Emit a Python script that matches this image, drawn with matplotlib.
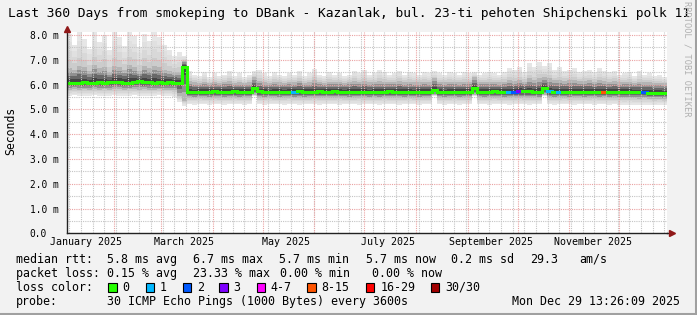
import numpy as np
import matplotlib
matplotlib.use('Agg')
import matplotlib.pyplot as plt
import matplotlib.dates as mdates
from matplotlib.patches import Rectangle
from matplotlib.lines import Line2D
from datetime import datetime, timedelta

plt.rcParams['font.family'] = ['DejaVu Sans Mono']

W, H = 697, 315

# Time span: 360 days ending at the graph timestamp, 3-day bins.
end = datetime(2025, 12, 29, 13, 26, 9)
start = end - timedelta(days=360)
bin_days = 3

# Median rtt per bin (ms).
median_rtt = [
    6.06, 6.08, 6.07, 6.09, 6.08, 6.07, 6.10, 6.08, 6.09, 6.12, 6.10, 6.08,
    6.07, 6.11, 6.13, 6.10, 6.09, 6.08, 6.09, 6.08, 6.10, 6.08, 6.06, 6.72,
    5.70, 5.69, 5.71, 5.70, 5.72, 5.73, 5.71, 5.70, 5.72, 5.73, 5.71, 5.72,
    5.71, 5.86, 5.73, 5.71, 5.70, 5.72, 5.71, 5.70, 5.72, 5.71, 5.73, 5.72,
    5.71, 5.72, 5.74, 5.72, 5.71, 5.73, 5.72, 5.70, 5.72, 5.71, 5.72, 5.70,
    5.70, 5.71, 5.69, 5.72, 5.73, 5.71, 5.70, 5.71, 5.72, 5.70, 5.71, 5.72,
    5.71, 5.80, 5.72, 5.70, 5.71, 5.72, 5.71, 5.70, 5.72, 5.86, 5.72, 5.71,
    5.72, 5.73, 5.71, 5.72, 5.71, 5.72, 5.73, 5.74, 5.73, 5.72, 5.71, 5.86,
    5.73, 5.72, 5.71, 5.72, 5.71, 5.70, 5.71, 5.72, 5.71, 5.70, 5.71, 5.72,
    5.71, 5.70, 5.71, 5.72, 5.71, 5.70, 5.69, 5.70, 5.68, 5.67, 5.66, 5.66,
]

# Smoke envelope per bin (ms): highest ping, upper core, lower core, lowest ping.
smoke_top = [
    8.05, 7.60, 8.10, 7.85, 7.45, 8.10, 7.70, 8.00, 7.40, 8.10, 7.90, 7.55,
    8.10, 7.95, 7.50, 8.05, 7.75, 8.10, 7.90, 7.60, 7.40, 7.15, 7.30, 7.15,
    6.55, 6.40, 6.35, 6.50, 6.30, 6.45, 6.35, 6.40, 6.55, 6.35, 6.45, 6.30,
    6.40, 6.55, 6.60, 6.45, 6.35, 6.50, 6.40, 6.35, 6.45, 6.40, 6.55, 6.35,
    6.45, 6.62, 6.40, 6.35, 6.50, 6.40, 6.45, 6.35, 6.40, 6.55, 6.45, 6.60,
    6.40, 6.45, 6.60, 6.50, 6.40, 6.45, 6.55, 6.40, 6.50, 6.45, 6.40, 6.50,
    6.45, 6.55, 6.45, 6.40, 6.50, 6.45, 6.40, 6.50, 6.45, 6.50, 6.40, 6.45,
    6.50, 6.45, 6.40, 6.50, 6.65, 6.60, 6.70, 6.50, 6.85, 6.70, 6.90, 6.75,
    6.85, 6.60, 6.70, 6.55, 6.60, 6.65, 6.50, 6.55, 6.60, 6.50, 6.65, 6.55,
    6.50, 6.55, 6.40, 6.45, 6.50, 6.35, 6.55, 6.40, 6.45, 6.35, 6.40, 6.30,
]
smoke_upper = [
    6.65, 6.60, 6.75, 6.70, 6.55, 6.80, 6.65, 6.70, 6.50, 6.75, 6.70, 6.60,
    6.80, 6.70, 6.55, 6.75, 6.65, 6.75, 6.70, 6.60, 6.55, 6.50, 6.50, 6.95,
    6.15, 6.10, 6.08, 6.12, 6.05, 6.10, 6.08, 6.12, 6.15, 6.08, 6.10, 6.05,
    6.10, 6.30, 6.15, 6.10, 6.08, 6.12, 6.10, 6.08, 6.12, 6.10, 6.15, 6.08,
    6.10, 6.18, 6.10, 6.08, 6.12, 6.10, 6.12, 6.08, 6.10, 6.15, 6.12, 6.15,
    6.10, 6.12, 6.15, 6.12, 6.10, 6.12, 6.15, 6.10, 6.12, 6.10, 6.10, 6.12,
    6.10, 6.25, 6.12, 6.10, 6.12, 6.10, 6.10, 6.12, 6.10, 6.30, 6.10, 6.12,
    6.12, 6.10, 6.10, 6.12, 6.18, 6.15, 6.20, 6.12, 6.25, 6.20, 6.25, 6.30,
    6.25, 6.18, 6.20, 6.15, 6.18, 6.20, 6.15, 6.15, 6.18, 6.12, 6.18, 6.15,
    6.12, 6.15, 6.10, 6.12, 6.12, 6.08, 6.12, 6.10, 6.10, 6.08, 6.08, 6.05,
]
smoke_lower = [
    5.80, 5.82, 5.80, 5.81, 5.80, 5.82, 5.80, 5.81, 5.80, 5.82, 5.81, 5.80,
    5.81, 5.82, 5.80, 5.81, 5.80, 5.80, 5.81, 5.80, 5.80, 5.78, 5.55, 5.35,
    5.46, 5.45, 5.47, 5.46, 5.45, 5.47, 5.46, 5.45, 5.46, 5.47, 5.45, 5.46,
    5.46, 5.58, 5.46, 5.45, 5.47, 5.46, 5.45, 5.46, 5.47, 5.45, 5.46, 5.45,
    5.46, 5.47, 5.45, 5.46, 5.46, 5.45, 5.47, 5.46, 5.45, 5.46, 5.47, 5.46,
    5.45, 5.46, 5.46, 5.47, 5.45, 5.46, 5.46, 5.45, 5.47, 5.46, 5.45, 5.46,
    5.46, 5.58, 5.46, 5.45, 5.46, 5.47, 5.45, 5.46, 5.46, 5.58, 5.46, 5.45,
    5.46, 5.47, 5.46, 5.45, 5.46, 5.46, 5.47, 5.45, 5.46, 5.46, 5.45, 5.58,
    5.46, 5.45, 5.46, 5.47, 5.45, 5.46, 5.46, 5.45, 5.46, 5.47, 5.45, 5.46,
    5.45, 5.46, 5.45, 5.44, 5.45, 5.44, 5.43, 5.44, 5.43, 5.42, 5.42, 5.41,
]
smoke_bottom = [
    5.55, 5.56, 5.55, 5.54, 5.55, 5.56, 5.55, 5.54, 5.55, 5.56, 5.55, 5.55,
    5.54, 5.56, 5.55, 5.55, 5.54, 5.55, 5.56, 5.55, 5.54, 5.50, 5.30, 5.15,
    5.20, 5.19, 5.21, 5.20, 5.19, 5.20, 5.21, 5.19, 5.20, 5.21, 5.20, 5.19,
    5.20, 5.55, 5.20, 5.19, 5.21, 5.20, 5.20, 5.19, 5.21, 5.20, 5.19, 5.20,
    5.21, 5.20, 5.19, 5.20, 5.21, 5.20, 5.19, 5.20, 5.21, 5.20, 5.19, 5.20,
    5.20, 5.21, 5.19, 5.20, 5.20, 5.21, 5.19, 5.20, 5.21, 5.20, 5.19, 5.20,
    5.20, 5.55, 5.20, 5.19, 5.21, 5.20, 5.19, 5.20, 5.20, 5.55, 5.20, 5.21,
    5.19, 5.20, 5.21, 5.20, 5.19, 5.20, 5.20, 5.21, 5.19, 5.20, 5.20, 5.55,
    5.20, 5.19, 5.21, 5.20, 5.20, 5.19, 5.20, 5.21, 5.20, 5.19, 5.20, 5.20,
    5.19, 5.20, 5.19, 5.18, 5.19, 5.18, 5.19, 5.18, 5.18, 5.17, 5.18, 5.18,
]

# Bins where some packets were lost, and the loss colour category for each.
loss_bins = [45, 88, 89, 90, 96, 98, 107, 115]
loss_cats = [1, 1, 2, 3, 1, 1, 5, 2]

loss_labels = ['0', '1', '2', '3', '4-7', '8-15', '16-29', '30/30']
loss_colors = ['#26ff00', '#00b8ff', '#0059ff', '#7e00ff',
               '#ff00ff', '#ff5500', '#ff0000', '#a10000']

y_labels = ['0.0', '1.0 m', '2.0 m', '3.0 m', '4.0 m',
            '5.0 m', '6.0 m', '7.0 m', '8.0 m']
month_labels = ['January 2025', 'March 2025', 'May 2025',
                'July 2025', 'September 2025', 'November 2025']

title = ('Last 360 Days from smokeping to DBank - Kazanlak, '
         'bul. 23-ti pehoten Shipchenski polk 11')
rtt_stats = ['5.8 ms avg', '6.7 ms max', '5.7 ms min', '5.7 ms now',
             '0.2 ms sd', '29.3', 'am/s']
loss_stats = ['0.15 % avg', '23.33 % max', '0.00 % min', '0.00 % now']
probe_text = '30 ICMP Echo Pings (1000 Bytes) every 3600s'
stamp = 'Mon Dec 29 13:26:09 2025'


def fx(x):
    return x / W


def fy(y):
    return 1 - y / H


fig = plt.figure(figsize=(W / 100, H / 100), dpi=100, facecolor='#f2f2f2')
ax = fig.add_axes([fx(67), fy(233.4), 600 / W, 201.4 / H])
ax.set_facecolor('white')

edges = mdates.date2num([start + timedelta(days=bin_days * i)
                         for i in range(len(median_rtt) + 1)])
med = np.array(median_rtt)
top = np.array(smoke_top)
upper = np.array(smoke_upper)
lower = np.array(smoke_lower)
bottom = np.array(smoke_bottom)

# Smoke: outer layers light, inner layers darker towards the median.
outer_cols = ['#e6e6e6', '#e0e0e0', '#d8d8d8', '#cccccc']
inner_cols = ['#b4b4b4', '#909090', '#686868', '#444444']
for k, c in enumerate(outer_cols):
    f = k / len(outer_cols)
    ax.stairs(top + (upper - top) * f, edges,
              baseline=bottom + (lower - bottom) * f,
              fill=True, color=c, lw=0, zorder=1)
for k, c in enumerate(inner_cols):
    f = k / len(inner_cols)
    ax.stairs(upper + (med - upper) * f, edges,
              baseline=lower + (med - lower) * f,
              fill=True, color=c, lw=0, zorder=1)

# Grid (drawn over the smoke, like rrdtool).
grid_gray = '#c4c4c4'
grid_red = '#eaa2a2'
dot = (0, (1, 1))
sundays = [mdates.date2num(datetime(2025, 1, 5) + timedelta(weeks=i))
           for i in range(52)]
for s in sundays:
    ax.axvline(s, color=grid_gray, ls=dot, lw=0.8, zorder=2)
for v in np.arange(0.5, 8.1, 1.0):
    ax.axhline(v, color=grid_gray, ls=dot, lw=0.8, zorder=2)
month_starts = [mdates.date2num(datetime(2025, m, 1)) for m in range(2, 13)]
for m in month_starts:
    ax.axvline(m, color=grid_red, ls=dot, lw=0.8, zorder=2)
for v in range(1, 9):
    ax.axhline(v, color=grid_red, ls=dot, lw=0.8, zorder=2)

# Median line coloured by loss: flat pieces per bin plus risers between bins.
line_cols = [loss_colors[0]] * len(med)
for b, c in zip(loss_bins, loss_cats):
    line_cols[b] = loss_colors[c]
ax.vlines(edges[1:-1], med[:-1], med[1:], color=loss_colors[0],
          lw=2.2, zorder=9)
ax.hlines(med, edges[:-1], edges[1:], colors=line_cols, lw=2.2,
          zorder=10, capstyle='projecting')

ax.set_xlim(edges[0], edges[-1])
ax.set_ylim(0, 8.12)

label_dates = [mdates.date2num(datetime(2025, m, 15)) for m in (1, 3, 5, 7, 9, 11)]
ax.set_xticks(label_dates, month_labels)
ax.set_yticks(range(9), y_labels)
ax.tick_params(axis='x', length=0, pad=2.6, labelsize=7.2)
ax.tick_params(axis='y', length=0, pad=27, labelsize=6.85)
for t in ax.get_yticklabels():
    t.set_horizontalalignment('left')

for s in ('top', 'right'):
    ax.spines[s].set_visible(False)
for s in ('left', 'bottom'):
    ax.spines[s].set_color('#222222')
    ax.spines[s].set_linewidth(1.0)
    ax.spines[s].set_zorder(11)

# Axis arrows.
ax.plot([1.0, 1.004], [0, 0], color='#222222', lw=1.0,
        transform=ax.transAxes, clip_on=False, zorder=11)
ax.plot([1.0075], [0], marker='>', ms=4.3, color='#901818', mec='#901818',
        transform=ax.transAxes, clip_on=False, zorder=12)
ax.plot([0], [1.017], marker='^', ms=4.3, color='#901818', mec='#901818',
        transform=ax.transAxes, clip_on=False, zorder=12)

# Title, axis label and credit.
fig.text(0.5, fy(13), title, ha='center', va='center', fontsize=9.3)
fig.text(fx(11), fy(131), 'Seconds', rotation=90, ha='center',
         va='center', fontsize=8.3)
fig.text(fx(687.5), fy(59), 'RRDTOOL / TOBI OETIKER', rotation=270,
         ha='center', va='center', fontsize=6.2, color='#b0b0b0')

# Legend block.
fs = 8.4
base = [262.8, 276.8, 290.6, 304.6]
fig.text(fx(16), fy(base[0]), 'median rtt:', fontsize=fs, va='baseline')
for x, s in zip([107, 193, 279, 365.7, 451, 530, 579], rtt_stats):
    fig.text(fx(x), fy(base[0]), s, fontsize=fs, va='baseline')
fig.text(fx(16), fy(base[1]), 'packet loss:', fontsize=fs, va='baseline')
for x, s in zip([107, 193, 280, 372], loss_stats):
    fig.text(fx(x), fy(base[1]), s, fontsize=fs, va='baseline')
fig.text(fx(16), fy(base[2]), 'loss color:', fontsize=fs, va='baseline')
box_x = [108.3, 145.5, 182.7, 219.3, 256.7, 307.3, 365.7, 430.7]
lab_x = [122.7, 159.7, 196.7, 233.5, 270.5, 321.5, 380.7, 445.7]
for bx, lx, lab, col in zip(box_x, lab_x, loss_labels, loss_colors):
    fig.patches.append(Rectangle((fx(bx), fy(291.7)), 8.5 / W, 8.5 / H,
                                 facecolor=col, edgecolor='black', lw=0.8,
                                 transform=fig.transFigure, figure=fig))
    fig.text(fx(lx), fy(base[2]), lab, fontsize=fs, va='baseline')
fig.text(fx(16), fy(base[3]), 'probe:', fontsize=fs, va='baseline')
fig.text(fx(107), fy(base[3]), probe_text, fontsize=fs, va='baseline')
fig.text(fx(680), fy(base[3]), stamp, fontsize=fs, va='baseline', ha='right')

# rrdtool style frame shade on the right and bottom.
fig.lines.append(Line2D([fx(695.5), fx(695.5)], [0, 1], color='#a0a0a0',
                        lw=2.2, transform=fig.transFigure, figure=fig))
fig.lines.append(Line2D([0, 1], [fy(313.5), fy(313.5)], color='#a0a0a0',
                        lw=2.2, transform=fig.transFigure, figure=fig))

fig.savefig('out.png', dpi=100, facecolor=fig.get_facecolor())
